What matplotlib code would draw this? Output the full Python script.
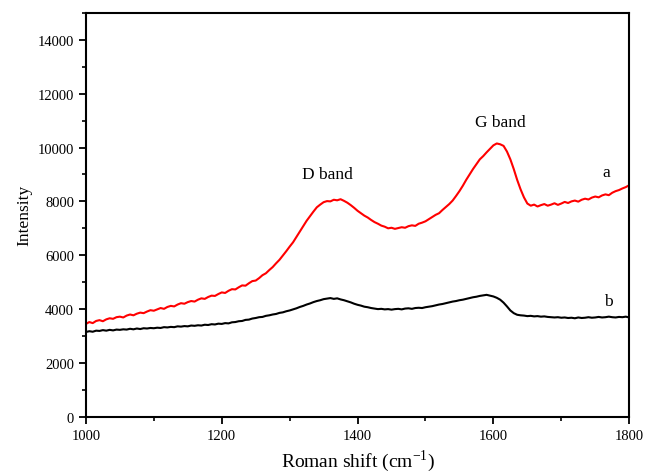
import numpy as np
import matplotlib.pyplot as plt
from matplotlib.ticker import MultipleLocator

# Raman shift axis, one reading every 5 cm-1
shift = np.arange(1000, 1801, 5)

# Spectrum a (red)
intensity_a = [
    3450, 3520, 3480, 3560, 3590, 3550, 3620, 3660, 3640, 3700,
    3720, 3690, 3760, 3800, 3770, 3830, 3870, 3850, 3910, 3960,
    3940, 3990, 4040, 4010, 4080, 4120, 4100, 4170, 4220, 4200,
    4260, 4300, 4280, 4350, 4400, 4380, 4450, 4500, 4490, 4560,
    4620, 4600, 4680, 4740, 4730, 4810, 4880, 4870, 4960, 5040,
    5060, 5150, 5260, 5330, 5450, 5560, 5700, 5830, 5990, 6150,
    6320, 6480, 6680, 6880, 7080, 7280, 7450, 7620, 7780, 7880,
    7970, 8010, 8000, 8060, 8040, 8080, 8020, 7950, 7860, 7760,
    7650, 7560, 7470, 7400, 7310, 7230, 7170, 7100, 7060, 7000,
    7020, 6980, 7010, 7040, 7020, 7080, 7110, 7090, 7170, 7210,
    7260, 7340, 7420, 7500, 7560, 7680, 7790, 7900, 8030, 8200,
    8380, 8580, 8800, 9000, 9200, 9380, 9560, 9680, 9820, 9950,
    10080, 10150, 10120, 10060, 9850, 9560, 9200, 8800, 8450, 8150,
    7920, 7840, 7880, 7810, 7860, 7900, 7840, 7880, 7930, 7870,
    7920, 7980, 7940, 8000, 8030, 7990, 8060, 8100, 8070, 8140,
    8180, 8150, 8220, 8260, 8230, 8320, 8380, 8420, 8480, 8530, 8600,
]

# Spectrum b (black)
intensity_b = [
    3150, 3180, 3160, 3200, 3190, 3220, 3200, 3230, 3210, 3240,
    3230, 3250, 3240, 3270, 3250, 3280, 3260, 3290, 3280, 3300,
    3290, 3310, 3300, 3330, 3320, 3340, 3330, 3360, 3350, 3370,
    3360, 3390, 3380, 3400, 3390, 3420, 3410, 3440, 3430, 3460,
    3450, 3480, 3470, 3510, 3520, 3550, 3560, 3600, 3610, 3650,
    3670, 3700, 3710, 3750, 3770, 3800, 3820, 3860, 3880, 3920,
    3950, 3990, 4030, 4080, 4120, 4170, 4210, 4260, 4300, 4330,
    4370, 4390, 4410, 4380, 4400, 4360, 4330, 4290, 4250, 4200,
    4160, 4130, 4090, 4070, 4040, 4020, 4000, 4010, 3990, 4000,
    3980, 4000, 4010, 3990, 4020, 4030, 4010, 4040, 4050, 4040,
    4070, 4090, 4110, 4140, 4170, 4190, 4220, 4250, 4280, 4300,
    4330, 4350, 4380, 4410, 4440, 4460, 4490, 4510, 4530, 4500,
    4470, 4420, 4350, 4240, 4100, 3950, 3850, 3790, 3770, 3760,
    3740, 3750, 3730, 3740, 3720, 3730, 3710, 3700, 3690, 3700,
    3680, 3690, 3670, 3680, 3660, 3690, 3670, 3680, 3700, 3680,
    3690, 3710, 3690, 3700, 3720, 3700, 3690, 3710, 3700, 3720, 3690,
]

plt.rcParams['font.family'] = ['Liberation Serif', 'DejaVu Serif']

fig = plt.figure(figsize=(6.46, 4.77), dpi=100)
ax = fig.add_axes([0.133, 0.124, 0.841, 0.847])

ax.plot(shift, intensity_a, color='red', lw=1.5)
ax.plot(shift, intensity_b, color='black', lw=1.5)

# band and curve labels
ax.text(1355, 9000, 'D band', fontsize=12.5, ha='center', va='center')
ax.text(1610, 10950, 'G band', fontsize=12.5, ha='center', va='center')
ax.text(1766, 9100, 'a', fontsize=12.5, ha='center', va='center')
ax.text(1770, 4300, 'b', fontsize=12.5, ha='center', va='center')

ax.set_xlim(1000, 1800)
ax.set_ylim(0, 15000)
ax.xaxis.set_major_locator(MultipleLocator(200))
ax.xaxis.set_minor_locator(MultipleLocator(100))
ax.yaxis.set_major_locator(MultipleLocator(2000))
ax.yaxis.set_minor_locator(MultipleLocator(1000))
ax.tick_params(which='major', direction='out', length=5, width=1.3, labelsize=10.5)
ax.tick_params(which='minor', direction='out', length=3, width=1.2)
ax.tick_params(top=False, right=False)
for s in ax.spines.values():
    s.set_linewidth(1.5)

ax.set_xlabel('Roman shift (cm$^{\\mathregular{-1}}$)', fontsize=14)
ax.set_ylabel('Intensity', fontsize=12.5)

fig.savefig('out.png', dpi=100)
